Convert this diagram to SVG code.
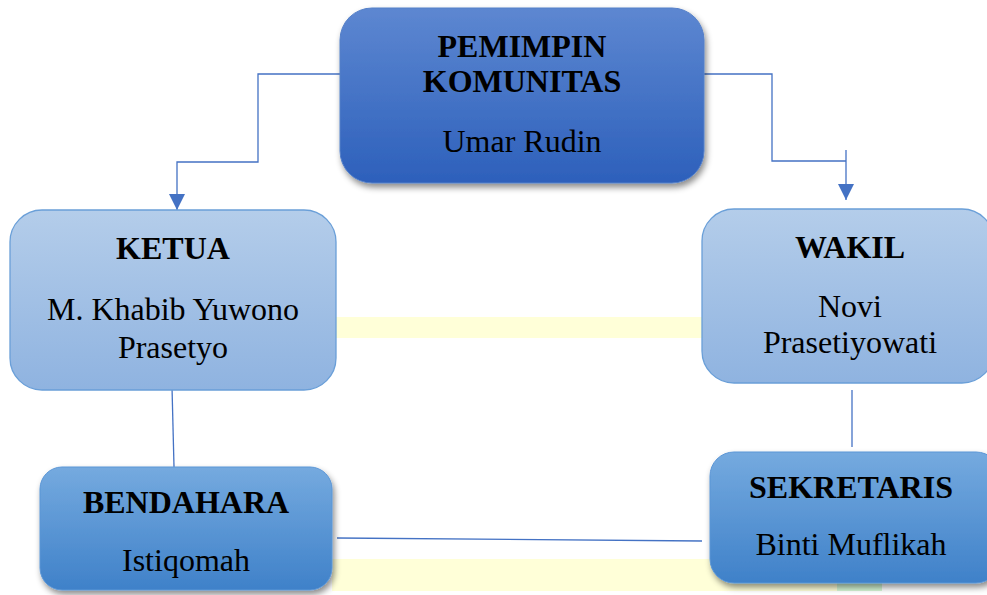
<svg xmlns="http://www.w3.org/2000/svg" width="987" height="595" viewBox="0 0 987 595">
<defs>
  <linearGradient id="gTop" x1="0" y1="0" x2="0" y2="1">
    <stop offset="0" stop-color="#5d87d1"/>
    <stop offset="1" stop-color="#2d60bb"/>
  </linearGradient>
  <linearGradient id="gLight" x1="0" y1="0" x2="0" y2="1">
    <stop offset="0" stop-color="#b4cdea"/>
    <stop offset="1" stop-color="#8fb3e0"/>
  </linearGradient>
  <linearGradient id="gMid" x1="0" y1="0" x2="0" y2="1">
    <stop offset="0" stop-color="#75aadf"/>
    <stop offset="1" stop-color="#3f81c9"/>
  </linearGradient>
  <filter id="shadow" x="-10%" y="-10%" width="125%" height="130%">
    <feDropShadow dx="2" dy="4" stdDeviation="3" flood-color="#000" flood-opacity="0.45"/>
  </filter>
  <marker id="arrow" viewBox="0 0 10 10" refX="10" refY="5" markerWidth="16" markerHeight="16" markerUnits="userSpaceOnUse" orient="auto">
    <path d="M0,0 L10,5 L0,10 Z" fill="#4472c4"/>
  </marker>
  <style>
    .title { font-family: "Liberation Serif", "Times New Roman", serif; font-weight: bold; font-size: 32px; fill: #000; text-anchor: middle; }
    .name { font-family: "Liberation Serif", "Times New Roman", serif; font-size: 32px; fill: #000; text-anchor: middle; }
    .conn { fill: none; stroke: #4472c4; stroke-width: 1.3; }
    .light { fill: url(#gLight); stroke: #6a9fd8; stroke-width: 1.3; }
    .mid { fill: url(#gMid); stroke: #5b96d6; stroke-width: 1; filter: url(#shadow); }
    .top { fill: url(#gTop); stroke: #5580c8; stroke-width: 1; filter: url(#shadow); }
  </style>
</defs>
<rect width="987" height="595" fill="#ffffff"/>
<!-- background bands -->
<rect x="336" y="317" width="366" height="21" fill="#ffffd8"/>
<rect x="332" y="559" width="505" height="32" fill="#ffffd8"/>
<rect x="837" y="583" width="45" height="8" fill="#d4f5d4"/>

<g id="connectors">
  <polyline class="conn" points="340,74 258,74 258,162 177,162 177,210" marker-end="url(#arrow)"/>
  <polyline class="conn" points="704,74 772,74 772,161 846,161"/>
  <line class="conn" x1="846" y1="150" x2="846" y2="200" marker-end="url(#arrow)"/>
  <line class="conn" x1="172" y1="387" x2="174" y2="467"/>
  <line class="conn" x1="852" y1="390" x2="852" y2="447"/>
  <line class="conn" x1="337" y1="538" x2="702" y2="541"/>
</g>

<g id="pemimpin">
  <rect class="top" x="340" y="8" width="364" height="175" rx="32"/>
  <text class="title" x="522" y="57">PEMIMPIN</text>
  <text class="title" x="522" y="92">KOMUNITAS</text>
  <text class="name" x="522" y="152">Umar Rudin</text>
</g>

<g id="ketua">
  <rect class="light" x="10" y="210" width="326" height="180" rx="32"/>
  <text class="title" x="173" y="259">KETUA</text>
  <text class="name" x="173" y="320">M. Khabib Yuwono</text>
  <text class="name" x="173" y="358">Prasetyo</text>
</g>

<g id="wakil">
  <rect class="light" x="702" y="209" width="292" height="174" rx="32"/>
  <text class="title" x="850" y="258">WAKIL</text>
  <text class="name" x="850" y="317">Novi</text>
  <text class="name" x="850" y="353">Prasetiyowati</text>
</g>

<g id="bendahara">
  <rect class="mid" x="40" y="467" width="292" height="123" rx="22"/>
  <text class="title" x="186" y="513">BENDAHARA</text>
  <text class="name" x="186" y="571">Istiqomah</text>
</g>

<g id="sekretaris">
  <rect class="mid" x="710" y="452" width="290" height="131" rx="24"/>
  <text class="title" x="851" y="498">SEKRETARIS</text>
  <text class="name" x="851" y="555">Binti Muflikah</text>
</g>
</svg>
